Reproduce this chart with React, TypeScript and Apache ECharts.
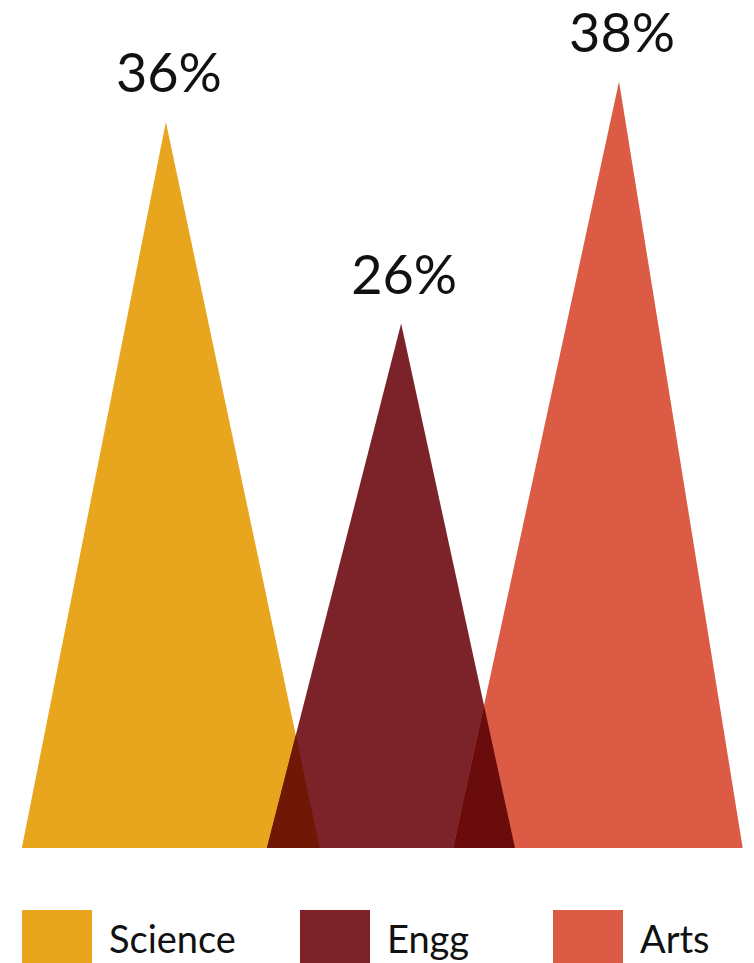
import React, { useEffect, useRef } from "react";
import * as echarts from "echarts";

const categories = ["Science", "Engg", "Arts"];
const shares = [36, 26, 38];
// triangle base start, peak position and base end on a 0–100 horizontal scale
const baseStart = [2.9, 35.4, 60.1];
const peakAt = [22.0, 53.2, 82.1];
const baseEnd = [42.4, 68.3, 98.5];
const colors = ["#E7A61E", "#7C2329", "#DB5B45"];

type Pt = number[];

function hexToRgb(h: string): number[] {
  const v = parseInt(h.slice(1), 16);
  return [(v >> 16) & 255, (v >> 8) & 255, v & 255];
}
function multiply(a: string, b: string): string {
  const x = hexToRgb(a);
  const y = hexToRgb(b);
  const m = x.map((c, i) => Math.round((c * y[i]) / 255));
  return "rgb(" + m.join(",") + ")";
}
function cross(u: Pt, v: Pt) {
  return u[0] * v[1] - u[1] * v[0];
}
function clipPoly(subject: Pt[], clip: Pt[]): Pt[] {
  let area = 0;
  for (let i = 0; i < clip.length; i++) {
    const a = clip[i];
    const b = clip[(i + 1) % clip.length];
    area += a[0] * b[1] - b[0] * a[1];
  }
  const sgn = area > 0 ? 1 : -1;
  let output = subject;
  for (let i = 0; i < clip.length; i++) {
    const a = clip[i];
    const b = clip[(i + 1) % clip.length];
    const input = output;
    output = [];
    if (!input.length) break;
    const ab = [b[0] - a[0], b[1] - a[1]];
    const inside = (p: Pt) => sgn * cross(ab, [p[0] - a[0], p[1] - a[1]]) >= 0;
    const inter = (p: Pt, q: Pt) => {
      const pq = [q[0] - p[0], q[1] - p[1]];
      const denom = cross(pq, ab);
      const t = denom === 0 ? 0 : cross([a[0] - p[0], a[1] - p[1]], ab) / denom;
      return [p[0] + t * pq[0], p[1] + t * pq[1]];
    };
    for (let k = 0; k < input.length; k++) {
      const cur = input[k];
      const prev = input[(k + input.length - 1) % input.length];
      if (inside(cur)) {
        if (!inside(prev)) output.push(inter(prev, cur));
        output.push(cur);
      } else if (inside(prev)) {
        output.push(inter(prev, cur));
      }
    }
  }
  return output;
}

export default function App() {
  const ref = useRef<HTMLDivElement>(null);
  useEffect(() => {
    document.body.style.margin = "0";
    const chart = echarts.init(ref.current!, null, { renderer: "svg" });
    const fontFamily = "Lato, 'Open Sans', sans-serif";

    const triangle = (api: any, j: number): Pt[] => [
      api.coord([baseStart[j], 0]),
      api.coord([peakAt[j], shares[j]]),
      api.coord([baseEnd[j], 0]),
    ];

    const series = categories.map((name, idx) => ({
      type: "custom",
      name,
      itemStyle: { color: colors[idx] },
      data: [[baseStart[idx], peakAt[idx], baseEnd[idx], shares[idx]]],
      encode: { x: [0, 1, 2], y: 3 },
      z: 2 + idx,
      renderItem: (params: any, api: any) => {
        const tri = triangle(api, idx);
        const children: any[] = [
          {
            type: "polygon",
            shape: { points: tri },
            style: { fill: colors[idx] },
          },
        ];
        for (let j = 0; j < idx; j++) {
          const other = triangle(api, j);
          const ov = clipPoly(tri, other);
          if (ov.length >= 3) {
            children.push({
              type: "polygon",
              shape: { points: ov },
              style: { fill: multiply(colors[idx], colors[j]) },
            });
          }
        }
        const peak = tri[1];
        children.push({
          type: "text",
          x: peak[0] + 3,
          y: peak[1] - 50,
          style: {
            text: shares[idx] + "%",
            fill: "#111111",
            fontSize: 54,
            lineHeight: 46,
            fontFamily,
            align: "center",
            verticalAlign: "middle",
          },
        });
        return { type: "group", children };
      },
    }));

    const legendLeft = [22, 300, 553];
    chart.setOption({
      animation: false,
      grid: { left: 0, right: 0, top: 41.2, height: 806.8 },
      xAxis: { type: "value", min: 0, max: 100, show: false },
      yAxis: { type: "value", min: 0, max: 40, show: false },
      legend: categories.map((name, i) => ({
        data: [name],
        left: legendLeft[i],
        top: 910,
        padding: 0,
        icon: "rect",
        itemWidth: 70,
        itemHeight: 56,
        selectedMode: false,
        textStyle: {
          fontSize: 38,
          lineHeight: 40,
          fontFamily,
          color: "#111111",
          padding: [0, 0, 0, 12],
        },
      })),
      series,
    });
    return () => chart.dispose();
  }, []);
  return <div ref={ref} style={{ width: 754, height: 963 }} />;
}
